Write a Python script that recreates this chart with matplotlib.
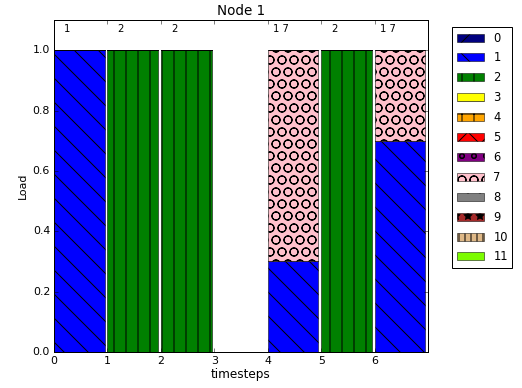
import numpy as np
import matplotlib
matplotlib.use('Agg')
import matplotlib.pyplot as plt

plt.style.use('classic')

timesteps = [0, 1, 2, 3, 4, 5, 6]
categories = [str(i) for i in range(12)]
colors = ['navy', 'blue', 'green', 'yellow', 'orange', 'red', 'purple',
          'pink', 'grey', 'brown', 'burlywood', 'lawngreen']
hatches = ['/', '\\', '|', '-', '+', 'x', 'o', 'O', '.', '*', '||', '']

# load per category (rows) at each timestep (columns)
load = np.zeros((12, 7))
load[1] = [1.0, 0, 0, 0, 0.3, 0, 0.7]
load[2] = [0, 1.0, 1.0, 0, 0, 1.0, 0]
load[7] = [0, 0, 0, 0, 0.7, 0, 0.3]

top_labels = ['1', '2', '2', '', '1 7', '2', '1 7']

DPI = 72
fig = plt.figure(figsize=(522 / DPI, 388 / DPI), dpi=DPI)
ax = fig.add_axes([54 / 522, 36 / 388, 374 / 522, 332 / 388])

bottom = np.zeros(7)
for i in range(12):
    ax.bar(timesteps, load[i], width=0.95, bottom=bottom, align='edge',
           color=colors[i], hatch=hatches[i], edgecolor='k', linewidth=0.5,
           label=categories[i])
    bottom += load[i]

for t, lab in zip(timesteps, top_labels):
    ax.text(t + 0.25, 1.07, lab, ha='center', va='center', fontsize=10)

ax.set_xlim(0, 7)
ax.set_ylim(0, 1.1)
ax.set_xticks(timesteps)
ax.set_yticks([0.0, 0.2, 0.4, 0.6, 0.8, 1.0])
ax.tick_params(labelsize=11)
ax.set_xlabel('timesteps', fontsize=12, labelpad=2)
ax.set_ylabel('Load', fontsize=11)
ax.set_title('Node 1', fontsize=13.5)

ax.legend(loc='upper left', bbox_to_anchor=(1.064, 0.979), borderaxespad=0,
          fontsize=11.5, handlelength=2.4, labelspacing=0.6)

fig.savefig('out.png', dpi=DPI)
